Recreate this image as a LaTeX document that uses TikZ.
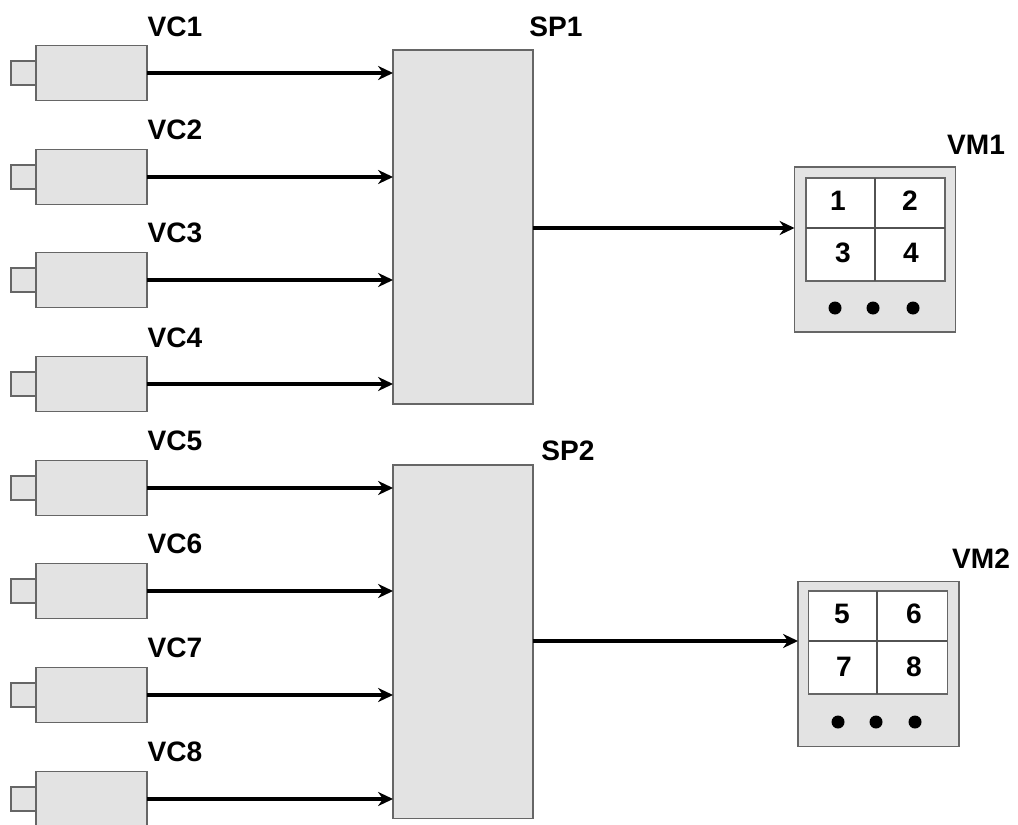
\documentclass[tikz,border=0pt]{standalone}
\usepackage{fontspec}
\setmainfont{Liberation Sans}
\usepackage{tikz}
\usetikzlibrary{positioning,arrows.meta}
\definecolor{boxgray}{gray}{0.89}
\definecolor{edgegray}{gray}{0.40}

\begin{document}
\begin{tikzpicture}[x=0.02cm, y=-0.02cm,
	every node/.style={font=\fontsize{16}{18}\selectfont\bfseries},
	cam/.style={draw=edgegray, line width=1.1pt, fill=boxgray, minimum width=2.22cm, minimum height=1.1cm, inner sep=0pt, outer sep=0pt},
	lens/.style={draw=edgegray, line width=1.1pt, fill=boxgray, minimum width=0.5cm, minimum height=0.48cm, inner sep=0pt, outer sep=0pt},
	proc/.style={draw=edgegray, line width=1.1pt, fill=boxgray, minimum width=2.8cm, minimum height=7.08cm, inner sep=0pt, outer sep=0pt},
	mon/.style={draw=edgegray, line width=1.1pt, fill=boxgray, minimum width=3.22cm, minimum height=3.3cm, inner sep=0pt, outer sep=0pt},
	scr/.style={draw=edgegray, line width=1pt, fill=white, minimum width=2.78cm, minimum height=2.06cm, inner sep=0pt, outer sep=0pt},
	dot/.style={circle, fill=black, minimum size=0.26cm, inner sep=0pt},
	wire/.style={line width=2.3pt, -{Stealth[length=8.5pt, width=8pt]}},
	split/.style={draw=edgegray!80!black, line width=0.8pt}]
	\useasboundingbox (0,0) rectangle (1018,825);
	% cameras
	\node[cam] (cam1) at (91.5,73) {};
	\node[cam] (cam2) at (91.5,177) {};
	\node[cam] (cam3) at (91.5,280) {};
	\node[cam] (cam4) at (91.5,384) {};
	\node[cam] (cam5) at (91.5,488) {};
	\node[cam] (cam6) at (91.5,591) {};
	\node[cam] (cam7) at (91.5,695) {};
	\node[cam] (cam8) at (91.5,799) {};
	\node[lens, left=0pt of cam1] (lens1) {};
	\node[lens, left=0pt of cam2] (lens2) {};
	\node[lens, left=0pt of cam3] (lens3) {};
	\node[lens, left=0pt of cam4] (lens4) {};
	\node[lens, left=0pt of cam5] (lens5) {};
	\node[lens, left=0pt of cam6] (lens6) {};
	\node[lens, left=0pt of cam7] (lens7) {};
	\node[lens, left=0pt of cam8] (lens8) {};
	\node (vc1) at (175,27) {VC1};
	\node (vc2) at (175,130) {VC2};
	\node (vc3) at (175,233) {VC3};
	\node (vc4) at (175,338) {VC4};
	\node (vc5) at (175,441) {VC5};
	\node (vc6) at (175,544) {VC6};
	\node (vc7) at (175,648) {VC7};
	\node (vc8) at (175,752) {VC8};
	% processors
	\node[proc] (sp1) at (463,227) {};
	\node[proc] (sp2) at (463,641.5) {};
	\node (sp1lab) at (556,27) {SP1};
	\node (sp2lab) at (568,451) {SP2};
	% monitors
	\node[mon] (vm1) at (875,249.5) {};
	\node[scr, line width=1.6pt] (scr1) at (875.5,229.5) {};
	\coordinate (mid1) at (875,228);
	\draw[split] (scr1.west |- mid1) -- (scr1.east |- mid1);
	\draw[split] (mid1 |- scr1.north) -- (mid1 |- scr1.south);
	\node (n1) at (838,201) {1};
	\node (n2) at (910,201) {2};
	\node (n3) at (843,253) {3};
	\node (n4) at (911,253) {4};
	\node[dot] (d1) at (835,308) {};
	\node[dot] (d2) at (873,308) {};
	\node[dot] (d3) at (913,308) {};
	\node (vm1lab) at (976,145) {VM1};
	\node[mon] (vm2) at (878.5,664) {};
	\node[scr] (scr2) at (878,642.5) {};
	\coordinate (mid2) at (877,641);
	\draw[split] (scr2.west |- mid2) -- (scr2.east |- mid2);
	\draw[split] (mid2 |- scr2.north) -- (mid2 |- scr2.south);
	\node (n5) at (842,614) {5};
	\node (n6) at (914,614) {6};
	\node (n7) at (844,667) {7};
	\node (n8) at (914,667) {8};
	\node[dot] (d4) at (838,722) {};
	\node[dot] (d5) at (876,722) {};
	\node[dot] (d6) at (915,722) {};
	\node (vm2lab) at (981,559) {VM2};
	% wires
	\draw[wire] (cam1.east) -- (sp1.west |- cam1);
	\draw[wire] (cam2.east) -- (sp1.west |- cam2);
	\draw[wire] (cam3.east) -- (sp1.west |- cam3);
	\draw[wire] (cam4.east) -- (sp1.west |- cam4);
	\draw[wire] (cam5.east) -- (sp2.west |- cam5);
	\draw[wire] (cam6.east) -- (sp2.west |- cam6);
	\draw[wire] (cam7.east) -- (sp2.west |- cam7);
	\draw[wire] (cam8.east) -- (sp2.west |- cam8);
	\draw[wire] (sp1.east |- mid1) -- (vm1.west |- mid1);
	\draw[wire] (sp2.east |- mid2) -- (vm2.west |- mid2);
\end{tikzpicture}
\end{document}
